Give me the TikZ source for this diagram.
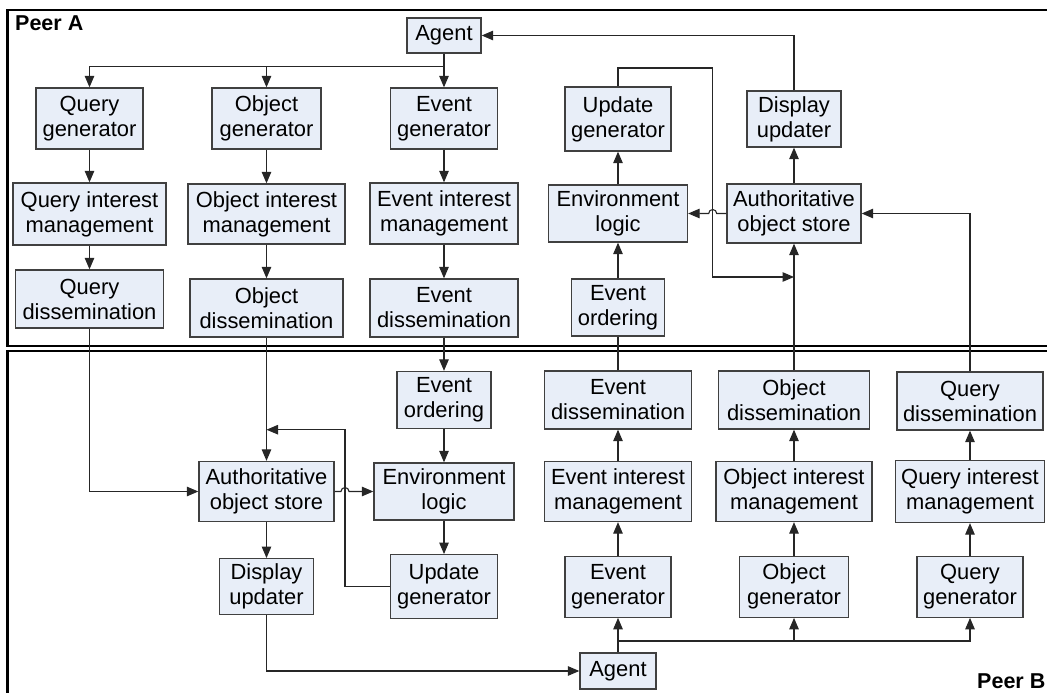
\documentclass[tikz,border=0pt]{standalone}
\usepackage{fontspec}
\setmainfont{Liberation Sans}
\usetikzlibrary{arrows.meta}
\definecolor{boxfill}{RGB}{232,238,248}
\definecolor{boxline}{RGB}{64,64,64}
\definecolor{wire}{RGB}{38,38,38}
\begin{document}
\begin{tikzpicture}[x=1pt,y=-1pt,
  box/.style={draw=boxline,fill=boxfill,line width=1.3pt,align=center,inner sep=0pt,
    font=\fontsize{21.9}{25}\selectfont},
  arr/.style={draw=wire,line width=1.1pt,-{Triangle[length=11.5pt,width=9.5pt]}},
  ln/.style={draw=wire,line width=1.1pt},
  frame/.style={draw=black,line width=2.3pt},
  peer/.style={font=\fontsize{21.5}{25}\selectfont\bfseries,anchor=base west,inner sep=0pt}]
\useasboundingbox (0,0) rectangle (1047,693);
\clip (0,0) rectangle (1047,693);

% peer frames
\draw[frame] (1070,10) -- (7.5,10) -- (7.5,346) -- (1070,346);
\draw[frame] (1070,351) -- (7.5,351) -- (7.5,710);
\node[peer] (pA) at (15,30.7) {Peer A};
\node[peer] (pB) at (977,688) {Peer B};

% ---- Peer A ----
\node[box,minimum width=74pt,minimum height=35pt] (agA) at (444,35.5) {Agent};
\node[box,minimum width=107pt,minimum height=61pt] (qgA) at (89.5,118.5) {Query\\generator};
\node[box,minimum width=109pt,minimum height=61pt] (ogA) at (266.5,118.5) {Object\\generator};
\node[box,minimum width=107pt,minimum height=61pt] (egA) at (444,118.5) {Event\\generator};
\node[box,minimum width=153pt,minimum height=62pt] (qiA) at (89.5,214) {Query interest\\management};
\node[box,minimum width=157pt,minimum height=60pt] (oiA) at (266.5,214) {Object interest\\management};
\node[box,minimum width=148pt,minimum height=61pt] (eiA) at (444,213.5) {Event interest\\management};
\node[box,minimum width=148pt,minimum height=58pt] (qdA) at (89.5,299) {Query\\dissemination};
\node[box,minimum width=153pt,minimum height=58pt] (odA) at (266.5,308) {Object\\dissemination};
\node[box,minimum width=148pt,minimum height=58pt] (edA) at (444,308) {Event\\dissemination};
\node[box,minimum width=106pt,minimum height=64pt] (ugA) at (618,119) {Update\\generator};
\node[box,minimum width=94pt,minimum height=56pt] (duA) at (794,119) {Display\\updater};
\node[box,minimum width=139pt,minimum height=57pt] (elA) at (618,213.5) {Environment\\logic};
\node[box,minimum width=134pt,minimum height=59pt] (asA) at (794,213.5) {Authoritative\\object store};
\node[box,minimum width=93pt,minimum height=57pt] (eoA) at (618,307.5) {Event\\ordering};

% ---- Peer B ----
\node[box,minimum width=94pt,minimum height=57pt] (eoB) at (444,400) {Event\\ordering};
\node[box,minimum width=140pt,minimum height=57pt] (elB) at (444,491.5) {Environment\\logic};
\node[box,minimum width=135pt,minimum height=60pt] (asB) at (266.5,491.5) {Authoritative\\object store};
\node[box,minimum width=94pt,minimum height=56pt] (duB) at (266.5,586.7) {Display\\updater};
\node[box,minimum width=107pt,minimum height=64pt] (ugB) at (444,586.7) {Update\\generator};
\node[box,minimum width=147pt,minimum height=58pt] (edB) at (618,400) {Event\\dissemination};
\node[box,minimum width=151pt,minimum height=58pt] (odB) at (794,400) {Object\\dissemination};
\node[box,minimum width=146pt,minimum height=58pt] (qdB) at (970,401) {Query\\dissemination};
\node[box,minimum width=147pt,minimum height=60pt] (eiB) at (618,491.5) {Event interest\\management};
\node[box,minimum width=156pt,minimum height=60pt] (oiB) at (794,491.5) {Object interest\\management};
\node[box,minimum width=149pt,minimum height=62pt] (qiB) at (970,491.5) {Query interest\\management};
\node[box,minimum width=106pt,minimum height=61pt] (egB) at (618,586.7) {Event\\generator};
\node[box,minimum width=109pt,minimum height=61pt] (ogB) at (794,586.7) {Object\\generator};
\node[box,minimum width=106pt,minimum height=61pt] (qgB) at (970,586.7) {Query\\generator};
\node[box,minimum width=76pt,minimum height=36pt] (agB) at (618,671) {Agent};

% helper points for routed wires
\coordinate (jA) at (444,66.5);
\coordinate (uA1) at (712.7,68);
\coordinate (mA) at (794,277);
\coordinate (uB1) at (345,429.7);
\coordinate (mB) at (266.5,429.7);
\coordinate (jB) at (618,641);

% ---- Peer A wiring ----
\draw[ln] (agA.south) -- (jA);
\draw[arr] (jA) -| (qgA.north);
\draw[arr] (jA) -| (ogA.north);
\draw[arr] (jA) -- (egA.north);
\draw[arr] (qgA) -- (qiA);
\draw[arr] (qiA) -- (qdA);
\draw[arr] (ogA) -- (oiA);
\draw[arr] (oiA) -- (odA);
\draw[arr] (egA) -- (eiA);
\draw[arr] (eiA) -- (edA);
\draw[arr] (duA.north) |- (agA.east);
\draw[arr] (ugA.north) |- (uA1) |- (mA);
\draw[arr] (elA) -- (ugA);
\draw[arr] (eoA) -- (elA);
\draw[arr] (asA) -- (duA);
\draw[arr] (asA.west) -- ([xshift=4pt]uA1 |- asA.west)
  arc[start angle=0,end angle=180,radius=4pt] -- (elA.east);

% ---- between peers ----
\draw[ln] (edB.north) -- (eoA.south);
\draw[arr] (odB.north) -- (asA.south);
\draw[arr] (qdB.north) |- (asA.east);
\draw[arr] (edA.south) -- (eoB.north);
\draw[arr] (qdA.south) |- (asB.west);
\draw[arr] (odA.south) -- (asB.north);

% ---- Peer B wiring ----
\draw[arr] (ugB.west) -| (uB1) -- (mB);
\draw[arr] (asB.east) -- ([xshift=-4pt]uB1 |- asB.east)
  arc[start angle=180,end angle=0,radius=4pt] -- (elB.west);
\draw[arr] (eoB) -- (elB);
\draw[arr] (elB) -- (ugB);
\draw[arr] (asB) -- (duB);
\draw[arr] (duB.south) |- (agB.west);
\draw[ln] (agB.north) -- (jB);
\draw[arr] (jB) -- (egB.south);
\draw[arr] (jB) -| (ogB.south);
\draw[arr] (jB) -| (qgB.south);
\draw[arr] (egB) -- (eiB);
\draw[arr] (eiB) -- (edB);
\draw[arr] (ogB) -- (oiB);
\draw[arr] (oiB) -- (odB);
\draw[arr] (qgB) -- (qiB);
\draw[arr] (qiB) -- (qdB);
\end{tikzpicture}
\end{document}
